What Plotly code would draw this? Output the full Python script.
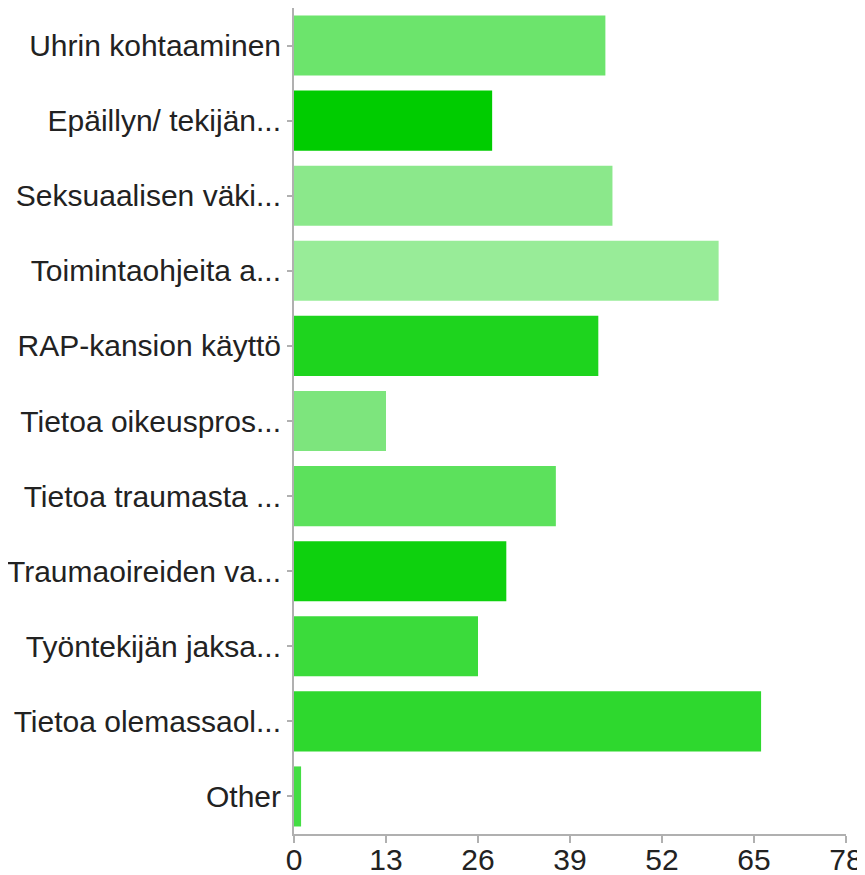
import plotly.graph_objects as go

categories = [
    "Uhrin kohtaaminen",
    "Epäillyn/ tekijän...",
    "Seksuaalisen väki...",
    "Toimintaohjeita a...",
    "RAP-kansion käyttö",
    "Tietoa oikeuspros...",
    "Tietoa traumasta ...",
    "Traumaoireiden va...",
    "Työntekijän jaksa...",
    "Tietoa olemassaol...",
    "Other",
]
values = [44, 28, 45, 60, 43, 13, 37, 30, 26, 66, 1]
colors = [
    "#6ce46c", "#00cc00", "#8be88b", "#98ec98", "#1ed41e", "#7de57d",
    "#5ce15c", "#0ed10e", "#3bdb3b", "#2ed82e", "#44dd44",
]
x_ticks = [0, 13, 26, 39, 52, 65, 78]

fig = go.Figure(go.Bar(
    x=values,
    y=categories,
    orientation="h",
    marker=dict(color=colors, line=dict(width=0)),
    hoverinfo="x+y",
))

# page body has an 8px default margin, so the figure is sized to compensate
fig.update_layout(
    width=857,
    height=867,
    margin=dict(l=286, r=19, t=0, b=41),
    paper_bgcolor="white",
    plot_bgcolor="white",
    bargap=0.2,
    showlegend=False,
    font=dict(family="Liberation Sans, Arial, sans-serif", size=30, color="#222222"),
)
fig.update_xaxes(
    range=[0, 78],
    tickvals=x_ticks,
    ticktext=[str(v) for v in x_ticks],
    showgrid=False,
    zeroline=False,
    showline=True,
    linecolor="#b0b0b0",
    linewidth=2,
    ticks="outside",
    ticklen=7,
    tickcolor="#b0b0b0",
    tickwidth=2,
    ticklabelstandoff=-9,
    automargin=False,
    tickfont=dict(size=30, color="#222222"),
)
fig.update_yaxes(
    autorange="reversed",
    showgrid=False,
    zeroline=False,
    showline=True,
    linecolor="#b0b0b0",
    linewidth=2,
    ticks="outside",
    ticklen=5,
    tickcolor="#b0b0b0",
    tickwidth=2,
    ticklabelstandoff=0,
    automargin=False,
    tickfont=dict(size=30, color="#222222"),
)

fig.write_html("out.html")
